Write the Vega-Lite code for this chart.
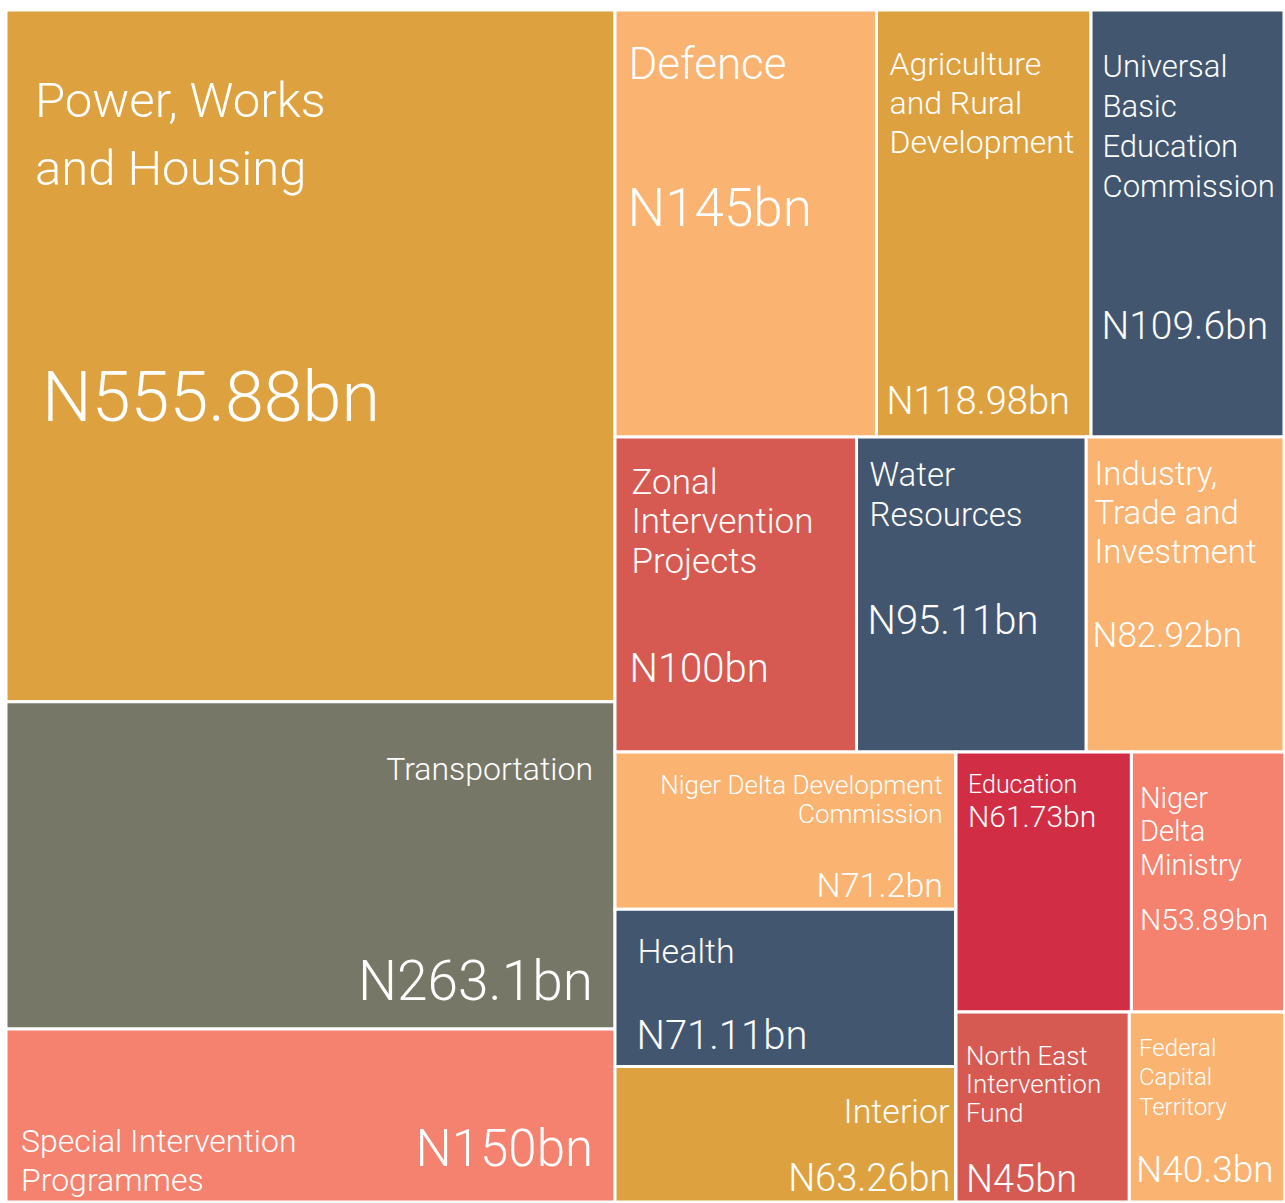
{
"$schema": "https://vega.github.io/schema/vega-lite/v6.json",
"padding": {"left": 4, "top": 8, "right": 0, "bottom": 0},
"spacing": 0,
"bounds": "flush",
"config": {
  "view": {"stroke": null},
  "text": {"font": "Roboto", "fontWeight": 300, "fill": "white", "baseline": "alphabetic", "lineBreak": "\n"},
  "rect": {"stroke": "white", "strokeWidth": 3}
},
"data": {"values": [
  {"name": "Power, Works and Housing", "label": "Power, Works\nand Housing", "amount": "N555.88bn", "value": 555.88, "block": "A"},
  {"name": "Transportation", "label": "Transportation", "amount": "N263.1bn", "value": 263.1, "block": "A"},
  {"name": "Special Intervention Programmes", "label": "Special Intervention\nProgrammes", "amount": "N150bn", "value": 150, "block": "A"},
  {"name": "Defence", "label": "Defence", "amount": "N145bn", "value": 145, "block": "B1"},
  {"name": "Agriculture and Rural Development", "label": "Agriculture\nand Rural\nDevelopment", "amount": "N118.98bn", "value": 118.98, "block": "B1"},
  {"name": "Universal Basic Education Commission", "label": "Universal\nBasic\nEducation\nCommission", "amount": "N109.6bn", "value": 109.6, "block": "B1"},
  {"name": "Zonal Intervention Projects", "label": "Zonal\nIntervention\nProjects", "amount": "N100bn", "value": 100, "block": "B2"},
  {"name": "Water Resources", "label": "Water\nResources", "amount": "N95.11bn", "value": 95.11, "block": "B2"},
  {"name": "Industry, Trade and Investment", "label": "Industry,\nTrade and\nInvestment", "amount": "N82.92bn", "value": 82.92, "block": "B2"},
  {"name": "Niger Delta Development Commission", "label": "Niger Delta Development\nCommission", "amount": "N71.2bn", "value": 71.2, "block": "B3L"},
  {"name": "Health", "label": "Health", "amount": "N71.11bn", "value": 71.11, "block": "B3L"},
  {"name": "Interior", "label": "Interior", "amount": "N63.26bn", "value": 63.26, "block": "B3L"},
  {"name": "Education", "label": "Education", "amount": "N61.73bn", "value": 61.73, "block": "B3R1"},
  {"name": "Niger Delta Ministry", "label": "Niger\nDelta\nMinistry", "amount": "N53.89bn", "value": 53.89, "block": "B3R1"},
  {"name": "North East Intervention Fund", "label": "North East\nIntervention\nFund", "amount": "N45bn", "value": 45, "block": "B3R2"},
  {"name": "Federal Capital Territory", "label": "Federal\nCapital\nTerritory", "amount": "N40.3bn", "value": 40.3, "block": "B3R2"}
]},
"hconcat": [
  {
    "width": 609, "height": 1192,
    "transform": [{"filter": "datum.block === 'A'"}, {"stack": "value", "groupby": [], "sort": [{"field": "value", "order": "descending"}], "as": ["v0", "v1"]}],
    "layer": [
      {"mark": "rect", "encoding": {
        "y": {"field": "v0", "type": "quantitative", "scale": {"domain": [0, 958], "reverse": true, "clamp": true, "nice": false, "zero": false}, "axis": null},
        "y2": {"field": "v1"},
        "color": {"field": "name", "type": "nominal", "legend": null, "scale": {"domain": ["Power, Works and Housing","Transportation","Special Intervention Programmes","Defence","Agriculture and Rural Development","Universal Basic Education Commission","Zonal Intervention Projects","Water Resources","Industry, Trade and Investment","Niger Delta Development Commission","Health","Interior","Education","Niger Delta Ministry","North East Intervention Fund","Federal Capital Territory"], "range": ["#DDA23F","#777767","#F4826E","#FAB370","#DDA23F","#43566F","#D65A52","#43566F","#FAB370","#FAB370","#43566F","#DDA23F","#D12E45","#F4826E","#D65A52","#FAB370"]}}
      }},
      {"transform": [{"filter": "datum.name === 'Power, Works and Housing'"}], "mark": {"type": "text", "fontSize": 49, "lineHeight": 68, "align": "left", "dx": 29, "dy": 106.5},
       "encoding": {"x": {"datum": 0, "type": "quantitative", "scale": {"domain": [0, 1]}, "axis": null}, "y": {"field": "v0", "type": "quantitative", "axis": null}, "text": {"field": "label"}}},
      {"transform": [{"filter": "datum.name === 'Power, Works and Housing'"}], "mark": {"type": "text", "fontSize": 70, "align": "left", "dx": 36, "dy": 410.5},
       "encoding": {"x": {"datum": 0, "type": "quantitative", "scale": {"domain": [0, 1]}, "axis": null}, "y": {"field": "v0", "type": "quantitative", "axis": null}, "text": {"field": "amount"}}},
      {"transform": [{"filter": "datum.name === 'Transportation'"}], "mark": {"type": "text", "fontSize": 32, "align": "right", "dx": -22, "dy": 78.8},
       "encoding": {"x": {"datum": 1, "type": "quantitative", "scale": {"domain": [0, 1]}, "axis": null}, "y": {"field": "v0", "type": "quantitative", "axis": null}, "text": {"field": "label"}}},
      {"transform": [{"filter": "datum.name === 'Transportation'"}], "mark": {"type": "text", "fontSize": 55, "align": "right", "dx": -22, "dy": 298.8},
       "encoding": {"x": {"datum": 1, "type": "quantitative", "scale": {"domain": [0, 1]}, "axis": null}, "y": {"field": "v0", "type": "quantitative", "axis": null}, "text": {"field": "amount"}}},
      {"transform": [{"filter": "datum.name === 'Special Intervention Programmes'"}], "mark": {"type": "text", "fontSize": 32, "lineHeight": 39, "align": "left", "dx": 15, "dy": 122.5},
       "encoding": {"x": {"datum": 0, "type": "quantitative", "scale": {"domain": [0, 1]}, "axis": null}, "y": {"field": "v0", "type": "quantitative", "axis": null}, "text": {"field": "label"}}},
      {"transform": [{"filter": "datum.name === 'Special Intervention Programmes'"}], "mark": {"type": "text", "fontSize": 51, "align": "right", "dx": -22, "dy": 136.5},
       "encoding": {"x": {"datum": 1, "type": "quantitative", "scale": {"domain": [0, 1]}, "axis": null}, "y": {"field": "v0", "type": "quantitative", "axis": null}, "text": {"field": "amount"}}}
    ]
  },
  {
    "spacing": 0,
    "bounds": "flush",
    "vconcat": [
      {
        "width": 669, "height": 427,
        "transform": [{"filter": "datum.block === 'B1'"}, {"stack": "value", "groupby": [], "sort": [{"field": "value", "order": "descending"}], "as": ["v0", "v1"]}],
        "layer": [
          {"mark": "rect", "encoding": {
            "x": {"field": "v0", "type": "quantitative", "scale": {"domain": [0, 371], "clamp": true, "nice": false, "zero": false}, "axis": null},
            "x2": {"field": "v1"},
            "color": {"field": "name", "type": "nominal", "legend": null, "scale": {"domain": ["Power, Works and Housing","Transportation","Special Intervention Programmes","Defence","Agriculture and Rural Development","Universal Basic Education Commission","Zonal Intervention Projects","Water Resources","Industry, Trade and Investment","Niger Delta Development Commission","Health","Interior","Education","Niger Delta Ministry","North East Intervention Fund","Federal Capital Territory"], "range": ["#DDA23F","#777767","#F4826E","#FAB370","#DDA23F","#43566F","#D65A52","#43566F","#FAB370","#FAB370","#43566F","#DDA23F","#D12E45","#F4826E","#D65A52","#FAB370"]}}
          }},
          {"transform": [{"filter": "datum.name === 'Defence'"}], "mark": {"type": "text", "fontSize": 44, "align": "left", "dx": 13.5, "dy": 68.5},
           "encoding": {"x": {"field": "v0", "type": "quantitative", "axis": null}, "y": {"datum": 0, "type": "quantitative", "scale": {"domain": [0, 1], "reverse": true}, "axis": null}, "text": {"field": "label"}}},
          {"transform": [{"filter": "datum.name === 'Defence'"}], "mark": {"type": "text", "fontSize": 53, "align": "left", "dx": 12.5, "dy": 215.5},
           "encoding": {"x": {"field": "v0", "type": "quantitative", "axis": null}, "y": {"datum": 0, "type": "quantitative", "scale": {"domain": [0, 1], "reverse": true}, "axis": null}, "text": {"field": "amount"}}},
          {"transform": [{"filter": "datum.name === 'Agriculture and Rural Development'"}], "mark": {"type": "text", "fontSize": 32, "lineHeight": 39, "align": "left", "dx": 13, "dy": 64.5},
           "encoding": {"x": {"field": "v0", "type": "quantitative", "axis": null}, "y": {"datum": 0, "type": "quantitative", "scale": {"domain": [0, 1], "reverse": true}, "axis": null}, "text": {"field": "label"}}},
          {"transform": [{"filter": "datum.name === 'Agriculture and Rural Development'"}], "mark": {"type": "text", "fontSize": 38, "align": "left", "dx": 10, "dy": 403.5},
           "encoding": {"x": {"field": "v0", "type": "quantitative", "axis": null}, "y": {"datum": 0, "type": "quantitative", "scale": {"domain": [0, 1], "reverse": true}, "axis": null}, "text": {"field": "amount"}}},
          {"transform": [{"filter": "datum.name === 'Universal Basic Education Commission'"}], "mark": {"type": "text", "fontSize": 31, "lineHeight": 40, "align": "left", "dx": 11.5, "dy": 66.5},
           "encoding": {"x": {"field": "v0", "type": "quantitative", "axis": null}, "y": {"datum": 0, "type": "quantitative", "scale": {"domain": [0, 1], "reverse": true}, "axis": null}, "text": {"field": "label"}}},
          {"transform": [{"filter": "datum.name === 'Universal Basic Education Commission'"}], "mark": {"type": "text", "fontSize": 39, "align": "left", "dx": 10.5, "dy": 328.5},
           "encoding": {"x": {"field": "v0", "type": "quantitative", "axis": null}, "y": {"datum": 0, "type": "quantitative", "scale": {"domain": [0, 1], "reverse": true}, "axis": null}, "text": {"field": "amount"}}}
        ]
      },
      {
        "width": 669, "height": 315,
        "transform": [{"filter": "datum.block === 'B2'"}, {"stack": "value", "groupby": [], "sort": [{"field": "value", "order": "descending"}], "as": ["v0", "v1"]}],
        "layer": [
          {"mark": "rect", "encoding": {
            "x": {"field": "v0", "type": "quantitative", "scale": {"domain": [0, 277], "clamp": true, "nice": false, "zero": false}, "axis": null},
            "x2": {"field": "v1"},
            "color": {"field": "name", "type": "nominal", "legend": null, "scale": {"domain": ["Power, Works and Housing","Transportation","Special Intervention Programmes","Defence","Agriculture and Rural Development","Universal Basic Education Commission","Zonal Intervention Projects","Water Resources","Industry, Trade and Investment","Niger Delta Development Commission","Health","Interior","Education","Niger Delta Ministry","North East Intervention Fund","Federal Capital Territory"], "range": ["#DDA23F","#777767","#F4826E","#FAB370","#DDA23F","#43566F","#D65A52","#43566F","#FAB370","#FAB370","#43566F","#DDA23F","#D12E45","#F4826E","#D65A52","#FAB370"]}}
          }},
          {"transform": [{"filter": "datum.name === 'Zonal Intervention Projects'"}], "mark": {"type": "text", "fontSize": 35, "lineHeight": 39.5, "align": "left", "dx": 16.5, "dy": 56.5},
           "encoding": {"x": {"field": "v0", "type": "quantitative", "axis": null}, "y": {"datum": 0, "type": "quantitative", "scale": {"domain": [0, 1], "reverse": true}, "axis": null}, "text": {"field": "label"}}},
          {"transform": [{"filter": "datum.name === 'Zonal Intervention Projects'"}], "mark": {"type": "text", "fontSize": 40, "align": "left", "dx": 14.5, "dy": 244.5},
           "encoding": {"x": {"field": "v0", "type": "quantitative", "axis": null}, "y": {"datum": 0, "type": "quantitative", "scale": {"domain": [0, 1], "reverse": true}, "axis": null}, "text": {"field": "amount"}}},
          {"transform": [{"filter": "datum.name === 'Water Resources'"}], "mark": {"type": "text", "fontSize": 33, "lineHeight": 40, "align": "left", "dx": 13, "dy": 48.5},
           "encoding": {"x": {"field": "v0", "type": "quantitative", "axis": null}, "y": {"datum": 0, "type": "quantitative", "scale": {"domain": [0, 1], "reverse": true}, "axis": null}, "text": {"field": "label"}}},
          {"transform": [{"filter": "datum.name === 'Water Resources'"}], "mark": {"type": "text", "fontSize": 40, "align": "left", "dx": 11, "dy": 196.5},
           "encoding": {"x": {"field": "v0", "type": "quantitative", "axis": null}, "y": {"datum": 0, "type": "quantitative", "scale": {"domain": [0, 1], "reverse": true}, "axis": null}, "text": {"field": "amount"}}},
          {"transform": [{"filter": "datum.name === 'Industry, Trade and Investment'"}], "mark": {"type": "text", "fontSize": 33, "lineHeight": 39, "align": "left", "dx": 8.3, "dy": 47.5},
           "encoding": {"x": {"field": "v0", "type": "quantitative", "axis": null}, "y": {"datum": 0, "type": "quantitative", "scale": {"domain": [0, 1], "reverse": true}, "axis": null}, "text": {"field": "label"}}},
          {"transform": [{"filter": "datum.name === 'Industry, Trade and Investment'"}], "mark": {"type": "text", "fontSize": 35, "align": "left", "dx": 6.3, "dy": 209.5},
           "encoding": {"x": {"field": "v0", "type": "quantitative", "axis": null}, "y": {"datum": 0, "type": "quantitative", "scale": {"domain": [0, 1], "reverse": true}, "axis": null}, "text": {"field": "amount"}}}
        ]
      },
      {
        "spacing": 0,
        "bounds": "flush",
        "hconcat": [
          {
            "width": 340.5, "height": 450,
            "transform": [{"filter": "datum.block === 'B3L'"}, {"stack": "value", "groupby": [], "sort": [{"field": "value", "order": "descending"}], "as": ["v0", "v1"]}],
            "layer": [
              {"mark": "rect", "encoding": {
                "y": {"field": "v0", "type": "quantitative", "scale": {"domain": [0, 203.6], "reverse": true, "clamp": true, "nice": false, "zero": false}, "axis": null},
                "y2": {"field": "v1"},
                "color": {"field": "name", "type": "nominal", "legend": null, "scale": {"domain": ["Power, Works and Housing","Transportation","Special Intervention Programmes","Defence","Agriculture and Rural Development","Universal Basic Education Commission","Zonal Intervention Projects","Water Resources","Industry, Trade and Investment","Niger Delta Development Commission","Health","Interior","Education","Niger Delta Ministry","North East Intervention Fund","Federal Capital Territory"], "range": ["#DDA23F","#777767","#F4826E","#FAB370","#DDA23F","#43566F","#D65A52","#43566F","#FAB370","#FAB370","#43566F","#DDA23F","#D12E45","#F4826E","#D65A52","#FAB370"]}}
              }},
              {"transform": [{"filter": "datum.name === 'Niger Delta Development Commission'"}], "mark": {"type": "text", "fontSize": 26, "lineHeight": 29, "align": "right", "dx": -13, "dy": 41.5},
               "encoding": {"x": {"datum": 1, "type": "quantitative", "scale": {"domain": [0, 1]}, "axis": null}, "y": {"field": "v0", "type": "quantitative", "axis": null}, "text": {"field": "label"}}},
              {"transform": [{"filter": "datum.name === 'Niger Delta Development Commission'"}], "mark": {"type": "text", "fontSize": 34, "align": "right", "dx": -12.5, "dy": 144.5},
               "encoding": {"x": {"datum": 1, "type": "quantitative", "scale": {"domain": [0, 1]}, "axis": null}, "y": {"field": "v0", "type": "quantitative", "axis": null}, "text": {"field": "amount"}}},
              {"transform": [{"filter": "datum.name === 'Health'"}], "mark": {"type": "text", "fontSize": 34, "align": "left", "dx": 22.5, "dy": 54.1},
               "encoding": {"x": {"datum": 0, "type": "quantitative", "scale": {"domain": [0, 1]}, "axis": null}, "y": {"field": "v0", "type": "quantitative", "axis": null}, "text": {"field": "label"}}},
              {"transform": [{"filter": "datum.name === 'Health'"}], "mark": {"type": "text", "fontSize": 40, "align": "left", "dx": 21.5, "dy": 140.1},
               "encoding": {"x": {"datum": 0, "type": "quantitative", "scale": {"domain": [0, 1]}, "axis": null}, "y": {"field": "v0", "type": "quantitative", "axis": null}, "text": {"field": "amount"}}},
              {"transform": [{"filter": "datum.name === 'Interior'"}], "mark": {"type": "text", "fontSize": 34, "align": "right", "dx": -6, "dy": 56},
               "encoding": {"x": {"datum": 1, "type": "quantitative", "scale": {"domain": [0, 1]}, "axis": null}, "y": {"field": "v0", "type": "quantitative", "axis": null}, "text": {"field": "label"}}},
              {"transform": [{"filter": "datum.name === 'Interior'"}], "mark": {"type": "text", "fontSize": 38, "align": "right", "dx": -5, "dy": 124},
               "encoding": {"x": {"datum": 1, "type": "quantitative", "scale": {"domain": [0, 1]}, "axis": null}, "y": {"field": "v0", "type": "quantitative", "axis": null}, "text": {"field": "amount"}}}
            ]
          },
          {
            "spacing": 0,
            "bounds": "flush",
            "vconcat": [
              {
                "width": 328.5, "height": 260,
                "transform": [{"filter": "datum.block === 'B3R1'"}, {"stack": "value", "groupby": [], "sort": [{"field": "value", "order": "descending"}], "as": ["v0", "v1"]}],
                "layer": [
                  {"mark": "rect", "encoding": {
                    "x": {"field": "v0", "type": "quantitative", "scale": {"domain": [0, 115.62], "clamp": true, "nice": false, "zero": false}, "axis": null},
                    "x2": {"field": "v1"},
                    "color": {"field": "name", "type": "nominal", "legend": null, "scale": {"domain": ["Power, Works and Housing","Transportation","Special Intervention Programmes","Defence","Agriculture and Rural Development","Universal Basic Education Commission","Zonal Intervention Projects","Water Resources","Industry, Trade and Investment","Niger Delta Development Commission","Health","Interior","Education","Niger Delta Ministry","North East Intervention Fund","Federal Capital Territory"], "range": ["#DDA23F","#777767","#F4826E","#FAB370","#DDA23F","#43566F","#D65A52","#43566F","#FAB370","#FAB370","#43566F","#DDA23F","#D12E45","#F4826E","#D65A52","#FAB370"]}}
                  }},
                  {"transform": [{"filter": "datum.name === 'Education'"}], "mark": {"type": "text", "fontSize": 25, "align": "left", "dx": 12, "dy": 40.5},
                   "encoding": {"x": {"field": "v0", "type": "quantitative", "axis": null}, "y": {"datum": 0, "type": "quantitative", "scale": {"domain": [0, 1], "reverse": true}, "axis": null}, "text": {"field": "label"}}},
                  {"transform": [{"filter": "datum.name === 'Education'"}], "mark": {"type": "text", "fontSize": 30, "align": "left", "dx": 12, "dy": 74.5},
                   "encoding": {"x": {"field": "v0", "type": "quantitative", "axis": null}, "y": {"datum": 0, "type": "quantitative", "scale": {"domain": [0, 1], "reverse": true}, "axis": null}, "text": {"field": "amount"}}},
                  {"transform": [{"filter": "datum.name === 'Niger Delta Ministry'"}], "mark": {"type": "text", "fontSize": 29, "lineHeight": 33.5, "align": "left", "dx": 8.6, "dy": 55.5},
                   "encoding": {"x": {"field": "v0", "type": "quantitative", "axis": null}, "y": {"datum": 0, "type": "quantitative", "scale": {"domain": [0, 1], "reverse": true}, "axis": null}, "text": {"field": "label"}}},
                  {"transform": [{"filter": "datum.name === 'Niger Delta Ministry'"}], "mark": {"type": "text", "fontSize": 30, "align": "left", "dx": 8.6, "dy": 177.5},
                   "encoding": {"x": {"field": "v0", "type": "quantitative", "axis": null}, "y": {"datum": 0, "type": "quantitative", "scale": {"domain": [0, 1], "reverse": true}, "axis": null}, "text": {"field": "amount"}}}
                ]
              },
              {
                "width": 328.5, "height": 190,
                "transform": [{"filter": "datum.block === 'B3R2'"}, {"stack": "value", "groupby": [], "sort": [{"field": "value", "order": "descending"}], "as": ["v0", "v1"]}],
                "layer": [
                  {"mark": "rect", "encoding": {
                    "x": {"field": "v0", "type": "quantitative", "scale": {"domain": [0, 85.3], "clamp": true, "nice": false, "zero": false}, "axis": null},
                    "x2": {"field": "v1"},
                    "color": {"field": "name", "type": "nominal", "legend": null, "scale": {"domain": ["Power, Works and Housing","Transportation","Special Intervention Programmes","Defence","Agriculture and Rural Development","Universal Basic Education Commission","Zonal Intervention Projects","Water Resources","Industry, Trade and Investment","Niger Delta Development Commission","Health","Interior","Education","Niger Delta Ministry","North East Intervention Fund","Federal Capital Territory"], "range": ["#DDA23F","#777767","#F4826E","#FAB370","#DDA23F","#43566F","#D65A52","#43566F","#FAB370","#FAB370","#43566F","#DDA23F","#D12E45","#F4826E","#D65A52","#FAB370"]}}
                  }},
                  {"transform": [{"filter": "datum.name === 'North East Intervention Fund'"}], "mark": {"type": "text", "fontSize": 26, "lineHeight": 28.5, "align": "left", "dx": 10, "dy": 52.5},
                   "encoding": {"x": {"field": "v0", "type": "quantitative", "axis": null}, "y": {"datum": 0, "type": "quantitative", "scale": {"domain": [0, 1], "reverse": true}, "axis": null}, "text": {"field": "label"}}},
                  {"transform": [{"filter": "datum.name === 'North East Intervention Fund'"}], "mark": {"type": "text", "fontSize": 38, "align": "left", "dx": 10, "dy": 179.5},
                   "encoding": {"x": {"field": "v0", "type": "quantitative", "axis": null}, "y": {"datum": 0, "type": "quantitative", "scale": {"domain": [0, 1], "reverse": true}, "axis": null}, "text": {"field": "amount"}}},
                  {"transform": [{"filter": "datum.name === 'Federal Capital Territory'"}], "mark": {"type": "text", "fontSize": 24, "lineHeight": 29.5, "align": "left", "dx": 9.7, "dy": 43.5},
                   "encoding": {"x": {"field": "v0", "type": "quantitative", "axis": null}, "y": {"datum": 0, "type": "quantitative", "scale": {"domain": [0, 1], "reverse": true}, "axis": null}, "text": {"field": "label"}}},
                  {"transform": [{"filter": "datum.name === 'Federal Capital Territory'"}], "mark": {"type": "text", "fontSize": 37, "align": "left", "dx": 6.7, "dy": 169.5},
                   "encoding": {"x": {"field": "v0", "type": "quantitative", "axis": null}, "y": {"datum": 0, "type": "quantitative", "scale": {"domain": [0, 1], "reverse": true}, "axis": null}, "text": {"field": "amount"}}}
                ]
              }
            ]
          }
        ]
      }
    ]
  }
]
}
